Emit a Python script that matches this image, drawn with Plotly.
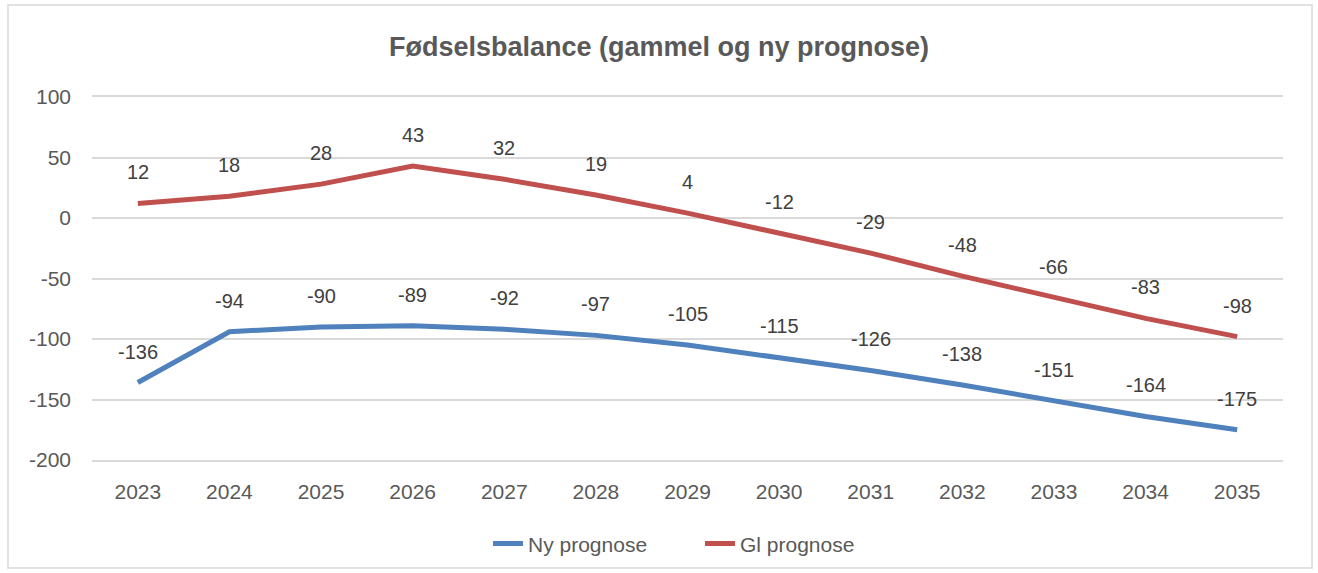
import plotly.graph_objects as go

years = ["2023", "2024", "2025", "2026", "2027", "2028", "2029", "2030", "2031", "2032", "2033", "2034", "2035"]
ny_prognose = [-136, -94, -90, -89, -92, -97, -105, -115, -126, -138, -151, -164, -175]
gl_prognose = [12, 18, 28, 43, 32, 19, 4, -12, -29, -48, -66, -83, -98]
y_ticks = [-200, -150, -100, -50, 0, 50, 100]

BLUE = "#4F81BD"
RED = "#C0504D"
TXT = "#595959"
FONT = "Liberation Sans"
FS = 21

fig = go.Figure()
fig.add_trace(go.Scatter(x=list(range(len(years))), y=ny_prognose, mode="lines", name="Ny prognose",
                         line=dict(color=BLUE, width=5), legend="legend"))
fig.add_trace(go.Scatter(x=list(range(len(years))), y=gl_prognose, mode="lines", name="Gl prognose",
                         line=dict(color=RED, width=5), legend="legend2"))

ann = []
for series in (ny_prognose, gl_prognose):
    for i, v in enumerate(series):
        ann.append(dict(x=i, y=v, text=str(v), showarrow=False, yshift=31,
                        font=dict(family=FONT, size=FS - 1, color="#404040")))

leg_common = dict(orientation="h", xanchor="left", y=-0.231, yanchor="middle",
                  font=dict(family=FONT, size=FS, color=TXT), bgcolor="rgba(0,0,0,0)")

fig.update_layout(
    width=1318, height=573,
    paper_bgcolor="white", plot_bgcolor="white",
    margin=dict(l=92, r=35, t=97, b=113, autoexpand=False),
    title=dict(text="<b>Fødselsbalance (gammel og ny prognose)</b>", x=0.5, xanchor="center",
               y=1 - 47 / 573, yanchor="middle", yref="container",
               font=dict(family=FONT, size=27, color=TXT)),
    font=dict(family=FONT, size=FS, color=TXT),
    showlegend=True,
    legend=dict(x=(488 - 92) / 1191, **leg_common),
    legend2=dict(x=(700 - 92) / 1191, **leg_common),
    annotations=ann,
    shapes=[dict(type="rect", xref="paper", yref="paper",
                 x0=(8 - 92) / 1191, x1=(1312 - 92) / 1191,
                 y0=(460 - 568) / 363, y1=(460 - 5) / 363,
                 line=dict(color="#D9D9D9", width=1.5), fillcolor="rgba(0,0,0,0)", layer="below")],
)
fig.update_xaxes(range=[-0.5, len(years) - 0.5], tickvals=list(range(len(years))), ticktext=years,
                 showgrid=False, zeroline=False, showline=True, mirror=True,
                 linecolor="#D9D9D9", linewidth=1.5,
                 ticks="", ticklabelstandoff=12, tickfont=dict(size=FS, color=TXT))
fig.update_yaxes(range=[-200, 100], tickvals=y_ticks, ticktext=[str(v) for v in y_ticks],
                 showgrid=True, gridcolor="#D9D9D9", gridwidth=1.5, zeroline=False,
                 showline=False, ticks="", ticklabelstandoff=20, tickfont=dict(size=FS, color=TXT))

fig.write_html("out.html", config={"displayModeBar": False},
               post_script="document.body.style.margin='0';document.body.style.overflow='hidden';")
